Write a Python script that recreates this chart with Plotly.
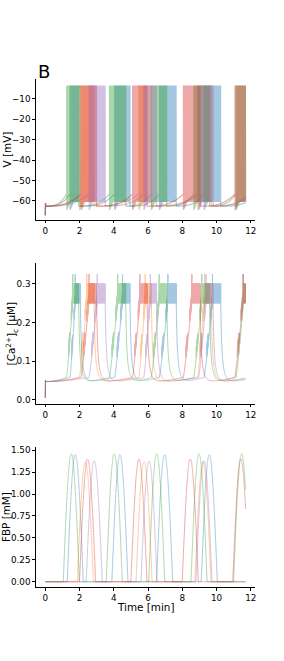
import numpy as np
import plotly.graph_objects as go

# ---------------- data ----------------
T_END = 11.7  # minutes simulated

cell_names = ["blue", "orange", "green", "red", "purple"]
cell_colors = ["#1f77b4", "#ff7f0e", "#2ca02c", "#d62728", "#9467bd"]

# burst (active phase) onset / end times per cell [min]
blue_burst_start = [1.45, 4.06, 6.67, 9.28]
blue_burst_end = [2.05, 4.95, 7.65, 10.25]
orange_burst_start = [2.00, 5.47, 8.90]
orange_burst_end = [2.85, 6.20, 9.70]
green_burst_start = [1.25, 3.75, 6.20, 8.68, 11.15]
green_burst_end = [1.95, 4.70, 7.10, 9.60, 12.00]
red_burst_start = [2.10, 5.10, 8.07, 11.08]
red_burst_end = [3.00, 5.95, 9.05, 12.00]
purple_burst_start = [2.56, 5.76, 8.97]
purple_burst_end = [3.50, 6.50, 9.80]

# FBP pulse peak times [min] and peak heights [mM]
blue_fbp_t = [1.75, 4.36, 6.97, 9.58]
blue_fbp_h = [1.45, 1.45, 1.45, 1.45]
orange_fbp_t = [2.34, 5.77, 9.21]
orange_fbp_h = [1.37, 1.37, 1.37]
green_fbp_t = [1.52, 4.03, 6.51, 8.98, 11.47]
green_fbp_h = [1.46, 1.46, 1.46, 1.46, 1.46]
red_fbp_t = [2.47, 5.47, 8.47, 11.42]
red_fbp_h = [1.40, 1.40, 1.40, 1.40]
purple_fbp_t = [2.86, 6.06, 9.27]
purple_fbp_h = [1.38, 1.38, 1.38]

# characteristic levels
V_INIT = -67.0        # mV at t = 0
V_REST = -62.5        # silent phase start
V_THRESH = -56.5      # silent phase end (burst threshold)
V_SPIKE_TOP = -3.5    # spike peaks
V_SPIKE_FLOOR = -60.5 # spike troughs
V_TOOTH = -64.5       # deepest trough at burst onset
CA_INIT = 0.005
CA_BASE = 0.047
CA_PRE = 0.058
CA_PL_LOW = 0.25
CA_PL_HIGH = 0.30
CA_SPIKE = 0.325
FBP_WIDTH = 0.94      # min, base width of an FBP pulse

x_ticks = [0, 2, 4, 6, 8, 10, 12]
v_ticks = [-60, -50, -40, -30, -20, -10]
ca_ticks = [0.0, 0.1, 0.2, 0.3]
fbp_ticks = [0.0, 0.25, 0.5, 0.75, 1.0, 1.25, 1.5]

bursts = {
    "blue": (blue_burst_start, blue_burst_end),
    "orange": (orange_burst_start, orange_burst_end),
    "green": (green_burst_start, green_burst_end),
    "red": (red_burst_start, red_burst_end),
    "purple": (purple_burst_start, purple_burst_end),
}
fbp_pulses = {
    "blue": (blue_fbp_t, blue_fbp_h),
    "orange": (orange_fbp_t, orange_fbp_h),
    "green": (green_fbp_t, green_fbp_h),
    "red": (red_fbp_t, red_fbp_h),
    "purple": (purple_fbp_t, purple_fbp_h),
}

HALF = 0.006  # half spike period (min)


def v_trace(starts, ends):
    t = [0.0, 0.015]
    v = [V_INIT, V_REST + 1.5]
    prev = 0.015
    for ts, te in zip(starts, ends):
        if ts >= T_END:
            break
        tt = np.linspace(prev, ts, max(int((ts - prev) / 0.02), 3))
        s = (tt - prev) / (ts - prev)
        t.extend(tt.tolist())
        v.extend((V_REST + (V_THRESH - V_REST) * s ** 3).tolist())
        tb = np.arange(ts, min(te, T_END), HALF)
        for k, tk in enumerate(tb):
            t.append(float(tk))
            if k % 2 == 0:
                v.append(V_SPIKE_TOP)
            else:
                f = min(1.0, (tk - ts) / 0.2)
                v.append(float(V_TOOTH + (V_SPIKE_FLOOR - V_TOOTH) * f))
        prev = te
    if prev < T_END:
        tt = np.linspace(prev, T_END, max(int((T_END - prev) / 0.02), 3))
        s = np.clip((tt - prev) / 2.2, 0, 1)
        t.extend(tt.tolist())
        v.extend((V_REST + (V_THRESH - V_REST) * s ** 3).tolist())
    return t, v


def ca_decay(tt, t0):
    d = tt - t0
    return (CA_PL_LOW - CA_BASE) * (0.45 * np.exp(-d / 0.04) + 0.55 * np.exp(-d / 0.14))


def ca_trace(starts, ends):
    t = [0.0, 0.01]
    c = [CA_INIT, 0.05]
    prev = 0.01
    after_burst = False
    for ts, te in zip(starts, ends):
        if ts >= T_END:
            break
        tt = np.linspace(prev, ts, max(int((ts - prev) / 0.008), 3))
        s = (tt - prev) / (ts - prev)
        base = CA_BASE + (CA_PRE - CA_BASE) * s ** 2
        if after_burst:
            base = base + ca_decay(tt, prev)
        t.extend(tt.tolist())
        c.extend(base.tolist())
        dur = te - ts
        t_pl = ts + 0.5 * dur
        tb = np.arange(ts, min(te, T_END), HALF)
        first_pl = True
        for k, tk in enumerate(tb):
            t.append(float(tk))
            if tk < t_pl:
                u = (tk - ts) / (t_pl - ts)
                trend = CA_PRE + (CA_PL_LOW - CA_PRE) * (0.45 * np.sin(np.pi * u / 2) + 0.55 * u ** 2)
                amp = 0.03 if (0.3 < u < 0.5 or 0.75 < u) else 0.002
                c.append(float(trend + amp * (k % 2)))
            else:
                if first_pl:
                    c.append(CA_SPIKE)
                    first_pl = False
                else:
                    c.append(CA_PL_HIGH if k % 2 else CA_PL_LOW)
        prev = te
        after_burst = True
    if prev < T_END:
        tt = np.linspace(prev, T_END, max(int((T_END - prev) / 0.008), 3))
        s = np.clip((tt - prev) / 2.2, 0, 1)
        base = CA_BASE + (CA_PRE - CA_BASE) * s ** 2 + ca_decay(tt, prev)
        t.extend(tt.tolist())
        c.extend(base.tolist())
    return t, c


def fbp_trace(peaks, heights):
    tt = np.arange(0.0, T_END + 1e-9, 0.004)
    f = np.zeros_like(tt)
    for tp, h in zip(peaks, heights):
        a = tp - FBP_WIDTH / 2
        m = (tt >= a) & (tt <= a + FBP_WIDTH)
        f[m] += h * np.sin(np.pi * (tt[m] - a) / FBP_WIDTH)
    return tt.tolist(), f.tolist()


fig = go.Figure()
ALPHA = 0.4
for name, col in zip(cell_names, cell_colors):
    st, en = bursts[name]
    tv, vv = v_trace(st, en)
    fig.add_trace(go.Scatter(x=tv, y=vv, mode="lines", xaxis="x", yaxis="y",
                             line=dict(color=col, width=1.2, simplify=False),
                             opacity=ALPHA, showlegend=False, hoverinfo="skip"))
for name, col in zip(cell_names, cell_colors):
    st, en = bursts[name]
    tc, cc = ca_trace(st, en)
    fig.add_trace(go.Scatter(x=tc, y=cc, mode="lines", xaxis="x2", yaxis="y2",
                             line=dict(color=col, width=1, simplify=False),
                             opacity=ALPHA, showlegend=False, hoverinfo="skip"))
for name, col in zip(cell_names, cell_colors):
    pt, ph = fbp_pulses[name]
    tf, ff = fbp_trace(pt, ph)
    fig.add_trace(go.Scatter(x=tf, y=ff, mode="lines", xaxis="x3", yaxis="y3",
                             line=dict(color=col, width=1, simplify=False),
                             opacity=ALPHA, showlegend=False, hoverinfo="skip"))

W, H = 284, 661
FONT = "DejaVu Sans"
tickfont = dict(family=FONT, size=8.8, color="black")
common = dict(showline=True, linecolor="black", linewidth=0.8, ticks="outside",
              ticklen=2.5, tickwidth=0.8, tickcolor="black", showgrid=False,
              zeroline=False, tickfont=tickfont, mirror=False, automargin=False)


def px(x):
    return x / W


def py(y):
    return 1 - y / H


xdom = [px(35.7), px(255)]


def ydom(top, bot):
    return [py(bot), py(top)]


xr = [-0.56, 12.25]
fig.update_layout(
    width=W, height=H, margin=dict(l=0, r=0, t=0, b=0, autoexpand=False),
    paper_bgcolor="white", plot_bgcolor="white",
    xaxis=dict(domain=xdom, range=xr, tickvals=x_ticks, anchor="y", **common),
    yaxis=dict(domain=ydom(79.3, 220), range=[-69.3, -0.5], tickvals=v_ticks,
               anchor="x", **common),
    xaxis2=dict(domain=xdom, range=xr, tickvals=x_ticks, anchor="y2", **common),
    yaxis2=dict(domain=ydom(263.3, 404), range=[-0.011, 0.353], tickvals=ca_ticks,
                tickformat=".1f", anchor="x2", **common),
    xaxis3=dict(domain=xdom, range=xr, tickvals=x_ticks, anchor="y3", **common),
    yaxis3=dict(domain=ydom(446.7, 587.3), range=[-0.064, 1.541], tickvals=fbp_ticks,
                tickformat=".2f", anchor="x3", **common),
)

tfont = dict(family=FONT, size=10.4, color="black")
ann = [
    dict(text="B", x=px(35.5), y=py(71.5), xanchor="left", yanchor="middle",
         font=dict(family=FONT, size=18, color="black")),
    dict(text="V [mV]", x=px(6.7), y=py(149.7), textangle=-90, font=tfont),
    dict(text="[Ca<sup>2+</sup>]<sub>c</sub> [μM]", x=px(11.7), y=py(333.7),
         textangle=-90, font=tfont),
    dict(text="FBP [mM]", x=px(6.0), y=py(517), textangle=-90, font=tfont),
    dict(text="Time [min]", x=px(145.4), y=py(606.5), font=tfont),
]
for a in ann:
    a.setdefault("xanchor", "center")
    a.setdefault("yanchor", "middle")
    a.update(xref="paper", yref="paper", showarrow=False)
fig.update_layout(annotations=ann)

# remove the browser's default 8px page margin so the figure sits at (0, 0)
fig.write_html("out.html",
               config={"displayModeBar": False},
               post_script="document.body.style.margin='0px';"
                           "document.documentElement.style.overflow='hidden';")
